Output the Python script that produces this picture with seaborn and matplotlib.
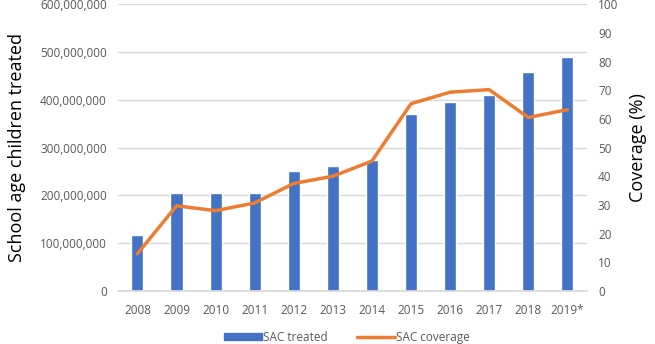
import matplotlib
matplotlib.use("Agg")
import matplotlib.pyplot as plt
import matplotlib.ticker as mticker
import seaborn as sns
import pandas as pd
import numpy as np
from matplotlib.patches import Patch
from matplotlib.lines import Line2D

years = ["2008", "2009", "2010", "2011", "2012", "2013", "2014", "2015", "2016", "2017", "2018", "2019*"]
sac_treated = [117e6, 204e6, 205e6, 205e6, 251e6, 261e6, 274e6, 370e6, 395e6, 411e6, 458e6, 490e6]
sac_coverage = [13.0, 29.7, 28.0, 30.7, 37.5, 40.0, 45.3, 65.3, 69.3, 70.2, 60.5, 63.2]

sns.set_theme(style="white")
plt.rcParams['font.family'] = ['Open Sans', 'DejaVu Sans']

df = pd.DataFrame({"year": years, "treated": sac_treated, "coverage": sac_coverage})

fig = plt.figure(figsize=(6.55, 3.44), dpi=100)
ax = fig.add_axes([0.180, 0.154, 0.716, 0.834])
blue = "#4472C4"
orange = "#ED7D31"
grey = "#595959"

sns.barplot(data=df, x="year", y="treated", color=blue, width=0.31, saturation=1, ax=ax, zorder=2)
ax.set_ylim(0, 600e6)
ax.set_yticks(np.arange(0, 600e6 + 1, 100e6))
ax.yaxis.set_major_formatter(mticker.FuncFormatter(lambda v, p: f"{int(v):,}"))
ax.grid(axis="y", color="#D9D9D9", linewidth=1, zorder=0)
ax.set_axisbelow(True)
for s in ["top", "right", "left"]:
    ax.spines[s].set_visible(False)
ax.spines["bottom"].set_color("#D9D9D9")
ax.set_xlabel("")
ax.set_ylabel("School age children treated", fontsize=13, color="black", labelpad=10)
ax.tick_params(axis="y", labelsize=8.5, colors=grey, length=0, pad=8)
ax.tick_params(axis="x", labelsize=8.5, colors=grey, length=0, pad=9)
ax.set_xlim(-0.5, len(years) - 0.5)

ax2 = ax.twinx()
sns.lineplot(data=df, x="year", y="coverage", color=orange, linewidth=2.5, sort=False, ax=ax2, zorder=3)
ax2.set_ylim(0, 100)
ax2.set_yticks(np.arange(0, 101, 10))
for s in ["top", "right", "left", "bottom"]:
    ax2.spines[s].set_visible(False)
ax2.set_ylabel("Coverage (%)", fontsize=13, color="black", labelpad=8)
ax2.tick_params(axis="y", labelsize=8.5, colors=grey, length=0, pad=8)
ax2.set_xlim(-0.5, len(years) - 0.5)

handles = [Patch(facecolor=blue, edgecolor=blue), Line2D([0], [0], color=orange, linewidth=2.5)]
fig.legend(handles, ["SAC treated", "SAC coverage"], loc="lower center", bbox_to_anchor=(0.53, -0.03),
           ncol=2, frameon=False, fontsize=8.5, labelcolor=grey, handlelength=3.2, handleheight=0.5,
           handletextpad=0.1, columnspacing=2.5)

fig.savefig("out.png", dpi=100)
